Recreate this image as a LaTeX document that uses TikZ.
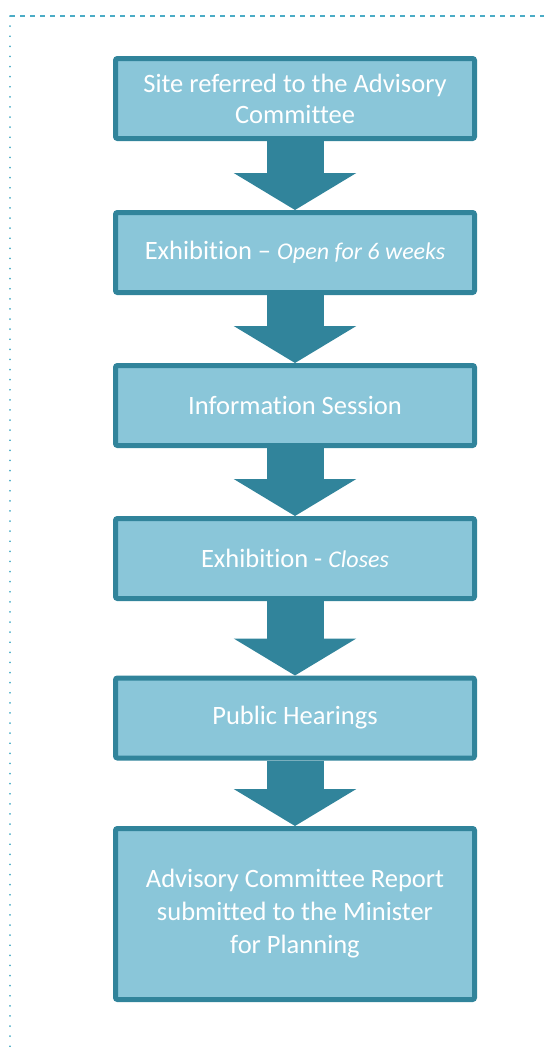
\documentclass[tikz,border=0pt]{standalone}
\usepackage{fontspec}
\setmainfont{Carlito}[Ligatures=CommonOff]
\usepackage{tikz}
\usetikzlibrary{arrows.meta, positioning}
\definecolor{stepfill}{RGB}{138,198,217}
\definecolor{stepline}{RGB}{49,132,155}
\definecolor{framecolor}{RGB}{75,172,198}

\begin{document}
\begin{tikzpicture}[
    x=1pt, y=-1pt,
    stepbox/.style={draw=stepline, line width=5pt, fill=stepfill, minimum width=359pt, minimum height=80pt, rounded corners=2pt, text=white, font=\fontsize{26.5}{32}\selectfont, align=center},
    flowarrow/.style={draw=stepline, line width=57pt, -{Triangle[width=121pt, length=37pt]}}
]
    \useasboundingbox (0,0) rectangle (544,1050);
    % Frame
    \draw[framecolor, line width=1.8pt, dash pattern=on 5pt off 5pt] (10,16) -- (544,16);
    \draw[framecolor, line width=1.8pt, line cap=round, dash pattern=on 0.1pt off 10pt] (10,16) -- (10,1050);

    % Steps
    \node[stepbox, font=\fontsize{26.5}{31}\selectfont] (s1) at (295,98.5) {Site referred to the Advisory\\Committee};
    \node[stepbox] (s2) at (295,252.5) {Exhibition \textendash{} {\fontsize{24}{32}\selectfont\itshape Open for 6 weeks}};
    \node[stepbox] (s3) at (295,405.5) {Information Session};
    \node[stepbox] (s4) at (295,558.5) {Exhibition - {\fontsize{24}{32}\selectfont\itshape Closes}};
    \node[stepbox] (s5) at (295,718) {Public Hearings};
    \node[stepbox, minimum height=171pt, font=\fontsize{26.5}{33}\selectfont] (s6) at (295,914) {Advisory Committee Report\\submitted to the Minister\\for Planning};

    % Arrows
    \draw[flowarrow] (s1) -- (s2);
    \draw[flowarrow] (s2) -- (s3);
    \draw[flowarrow] (s3) -- (s4);
    \draw[flowarrow] (s4) -- (s5);
    \draw[flowarrow] (s5) -- (s6);
\end{tikzpicture}
\end{document}
